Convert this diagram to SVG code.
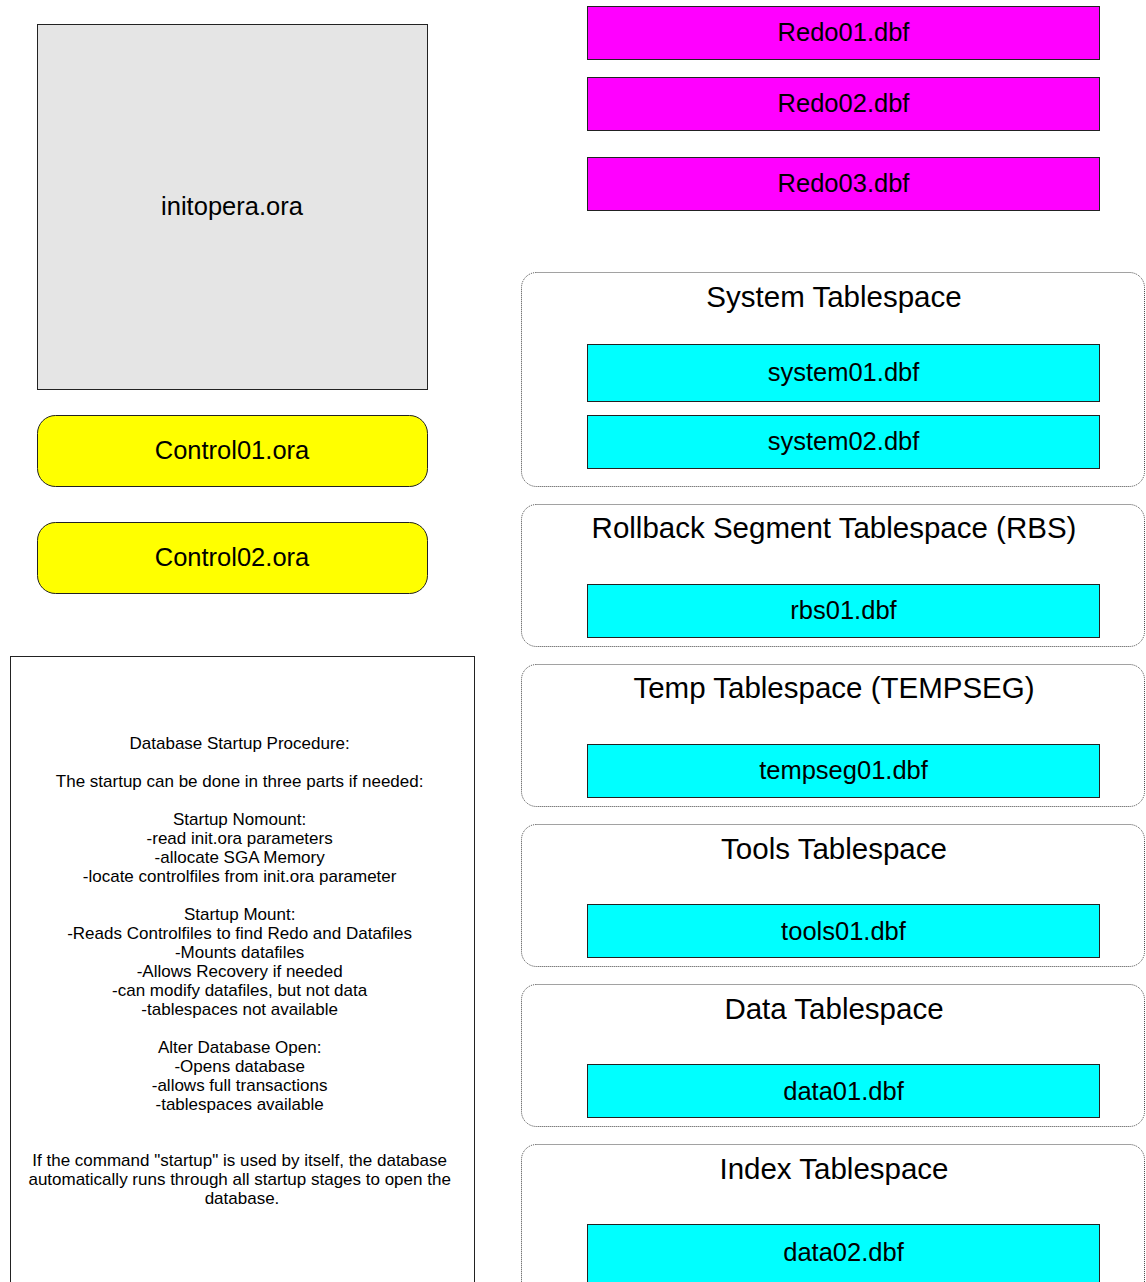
<svg xmlns="http://www.w3.org/2000/svg" width="1146" height="1282" viewBox="0 0 1146 1282">
  <style>
    text { font-family: "Liberation Sans", Arial, sans-serif; fill: #000; text-anchor: middle; }
    .lbl { font-size: 25.5px; }
    .title { font-size: 29.5px; }
    .note { font-size: 17px; }
    .file { stroke: #222; stroke-width: 1; }
    .redo { fill: #ff00ff; }
    .dbf { fill: #00ffff; }
    .ctl { fill: #ffff00; }
    .ts { fill: #fff; stroke: #444; stroke-width: 1; stroke-dasharray: 1 1; }
  </style>

  <rect width="1146" height="1282" fill="#fff"/>

  <!-- parameter file -->
  <g id="initopera">
    <rect class="file" x="37.5" y="24.5" width="390" height="365" fill="#e5e5e5"/>
    <text class="lbl" x="232" y="215">initopera.ora</text>
  </g>

  <!-- control files -->
  <g id="control01">
    <rect class="file ctl" x="37.5" y="415.5" width="390" height="71" rx="18"/>
    <text class="lbl" x="232" y="459">Control01.ora</text>
  </g>
  <g id="control02">
    <rect class="file ctl" x="37.5" y="522.5" width="390" height="71" rx="18"/>
    <text class="lbl" x="232" y="566">Control02.ora</text>
  </g>

  <!-- startup notes -->
  <g id="notes">
    <rect x="10.5" y="656.5" width="464" height="640" fill="#fff" stroke="#222" stroke-width="1"/>
    <text class="note">
      <tspan x="242" y="749">Database Startup Procedure:</tspan>
      <tspan x="242" y="787">The startup can be done in three parts if needed:</tspan>
      <tspan x="242" y="825">Startup Nomount:</tspan>
      <tspan x="242" y="844">-read init.ora parameters</tspan>
      <tspan x="242" y="863">-allocate SGA Memory</tspan>
      <tspan x="242" y="882">-locate controlfiles from init.ora parameter</tspan>
      <tspan x="242" y="920">Startup Mount:</tspan>
      <tspan x="242" y="939">-Reads Controlfiles to find Redo and Datafiles</tspan>
      <tspan x="242" y="958">-Mounts datafiles</tspan>
      <tspan x="242" y="977">-Allows Recovery if needed</tspan>
      <tspan x="242" y="996">-can modify datafiles, but not data</tspan>
      <tspan x="242" y="1015">-tablespaces not available</tspan>
      <tspan x="242" y="1053">Alter Database Open:</tspan>
      <tspan x="242" y="1072">-Opens database</tspan>
      <tspan x="242" y="1091">-allows full transactions</tspan>
      <tspan x="242" y="1110">-tablespaces available</tspan>
      <tspan x="242" y="1166">If the command "startup" is used by itself, the database</tspan>
      <tspan x="242" y="1185">automatically runs through all startup stages to open the</tspan>
      <tspan x="242" y="1204">database.</tspan>
    </text>
  </g>

  <!-- redo log files -->
  <g id="redo01">
    <rect class="file redo" x="587.5" y="6.5" width="512" height="53"/>
    <text class="lbl" x="843.5" y="41">Redo01.dbf</text>
  </g>
  <g id="redo02">
    <rect class="file redo" x="587.5" y="77.5" width="512" height="53"/>
    <text class="lbl" x="843.5" y="112">Redo02.dbf</text>
  </g>
  <g id="redo03">
    <rect class="file redo" x="587.5" y="157.5" width="512" height="53"/>
    <text class="lbl" x="843.5" y="192">Redo03.dbf</text>
  </g>

  <!-- tablespaces with their datafiles -->
  <g id="system-ts">
    <rect class="ts" x="521.5" y="272.5" width="623" height="214" rx="15"/>
    <text class="title" x="834" y="307">System Tablespace</text>
  </g>
  <g id="system01">
    <rect class="file dbf" x="587.5" y="344.5" width="512" height="57"/>
    <text class="lbl" x="843.5" y="381">system01.dbf</text>
  </g>
  <g id="system02">
    <rect class="file dbf" x="587.5" y="415.5" width="512" height="53"/>
    <text class="lbl" x="843.5" y="450">system02.dbf</text>
  </g>

  <g id="rbs-ts">
    <rect class="ts" x="521.5" y="504.5" width="623" height="142" rx="15"/>
    <text class="title" x="834" y="538">Rollback Segment Tablespace (RBS)</text>
  </g>
  <g id="rbs01">
    <rect class="file dbf" x="587.5" y="584.5" width="512" height="53"/>
    <text class="lbl" x="843.5" y="619">rbs01.dbf</text>
  </g>

  <g id="temp-ts">
    <rect class="ts" x="521.5" y="664.5" width="623" height="142" rx="15"/>
    <text class="title" x="834" y="698">Temp Tablespace (TEMPSEG)</text>
  </g>
  <g id="tempseg01">
    <rect class="file dbf" x="587.5" y="744.5" width="512" height="53"/>
    <text class="lbl" x="843.5" y="779">tempseg01.dbf</text>
  </g>

  <g id="tools-ts">
    <rect class="ts" x="521.5" y="824.5" width="623" height="142" rx="15"/>
    <text class="title" x="834" y="859">Tools Tablespace</text>
  </g>
  <g id="tools01">
    <rect class="file dbf" x="587.5" y="904.5" width="512" height="53"/>
    <text class="lbl" x="843.5" y="940">tools01.dbf</text>
  </g>

  <g id="data-ts">
    <rect class="ts" x="521.5" y="984.5" width="623" height="142" rx="15"/>
    <text class="title" x="834" y="1019">Data Tablespace</text>
  </g>
  <g id="data01">
    <rect class="file dbf" x="587.5" y="1064.5" width="512" height="53"/>
    <text class="lbl" x="843.5" y="1100">data01.dbf</text>
  </g>

  <g id="index-ts">
    <rect class="ts" x="521.5" y="1144.5" width="623" height="160" rx="15"/>
    <text class="title" x="834" y="1179">Index Tablespace</text>
  </g>
  <g id="data02">
    <rect class="file dbf" x="587.5" y="1224.5" width="512" height="70"/>
    <text class="lbl" x="843.5" y="1261">data02.dbf</text>
  </g>

  <!-- no connectors are drawn between these items -->
  <g id="connectors"/>
</svg>
